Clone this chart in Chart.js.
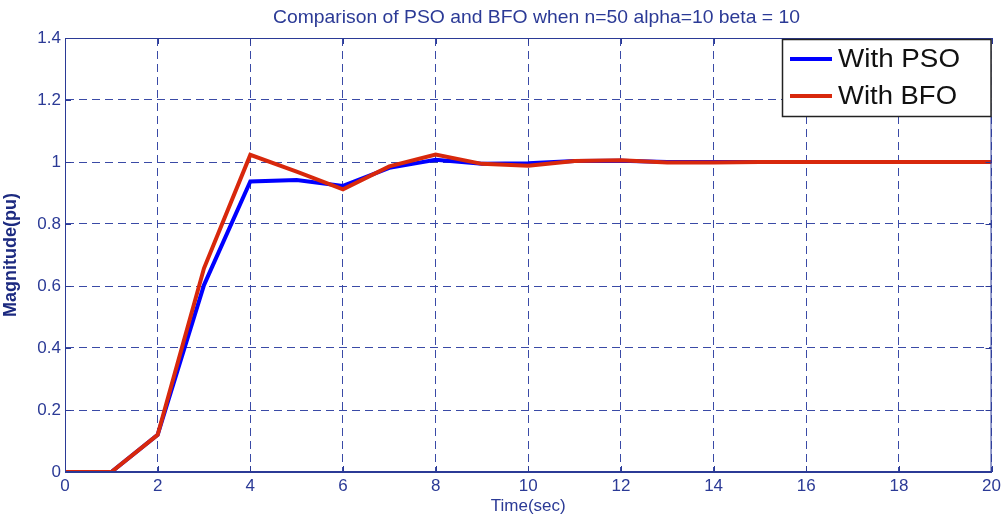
<!DOCTYPE html>
<html>
<head>
<meta charset="utf-8">
<script src="https://cdn.jsdelivr.net/npm/chart.js@4"></script>
<style>
  html, body { margin: 0; padding: 0; background: #fff; }
  #wrap { width: 1005px; height: 517px; }
</style>
</head>
<body>
<div id="wrap"><canvas id="chart" width="1005" height="517"></canvas></div>
<script>
// Data
const timeSec = [0, 1, 2, 3, 4, 5, 6, 7, 8, 9, 10, 11, 12, 13, 14, 15, 16, 17, 18, 19, 20]
const psoValues = [0, 0, 0.12, 0.603, 0.937, 0.942, 0.923, 0.981, 1.007, 0.994, 0.996, 1.003, 1.004, 1.0, 1.0, 1.0, 1.0, 1.0, 1.0, 1.0, 1.0]
const bfoValues = [0, 0, 0.12, 0.657, 1.023, 0.969, 0.912, 0.986, 1.024, 0.994, 0.988, 1.003, 1.006, 0.998, 0.998, 1.0, 1.0, 1.0, 1.0, 1.0, 1.0]
const yTicks = [0, 0.2, 0.4, 0.6, 0.8, 1, 1.2, 1.4]
const xTicks = [0, 2, 4, 6, 8, 10, 12, 14, 16, 18, 20]

const axisColor = "#2b3a96"
const gridColor = "#3a4aa6"
const titleText = "Comparison of PSO and BFO when n=50 alpha=10 beta = 10"

const toPoints = (vals) => vals.map((v, i) => ({ x: timeSec[i], y: v }))

// draw text stretched/condensed to a given width
function fillFitted(ctx, text, x, y, width) {
  const w = ctx.measureText(text).width
  ctx.save()
  ctx.translate(x, y)
  ctx.scale(width / w, 1)
  ctx.fillText(text, 0, 0)
  ctx.restore()
}

// Title, box, tick marks and legend drawn like the MATLAB figure
const figurePlugin = {
  id: "figure",
  afterDraw(chart) {
    const { ctx, chartArea: a, scales } = chart
    ctx.save()
    // frame
    ctx.strokeStyle = axisColor
    ctx.lineWidth = 1
    ctx.strokeRect(a.left + 0.5, a.top + 0.5, a.right - a.left - 1, a.bottom - a.top - 1)

    // small inward ticks on all sides
    ctx.beginPath()
    xTicks.forEach((v) => {
      const x = Math.round(scales.x.getPixelForValue(v)) + 0.5
      ctx.moveTo(x, a.bottom); ctx.lineTo(x, a.bottom - 6)
      ctx.moveTo(x, a.top); ctx.lineTo(x, a.top + 6)
    })
    yTicks.forEach((v) => {
      const y = Math.round(scales.y.getPixelForValue(v)) + 0.5
      ctx.moveTo(a.left, y); ctx.lineTo(a.left + 6, y)
      ctx.moveTo(a.right, y); ctx.lineTo(a.right - 6, y)
    })
    ctx.stroke()

    // title
    ctx.fillStyle = axisColor
    ctx.font = "19px 'Liberation Sans', Arial"
    ctx.textAlign = "left"
    ctx.textBaseline = "middle"
    fillFitted(ctx, titleText, 273, 18, 527)

    // legend
    const bx = 782, by = 39, bw = a.right - 782, bh = 78
    ctx.fillStyle = "#fff"
    ctx.fillRect(bx, by, bw, bh)
    ctx.strokeStyle = "#222"
    ctx.lineWidth = 1.5
    ctx.strokeRect(bx + 0.5, by + 0.5, bw - 1, bh - 1)
    chart.data.datasets.forEach((ds, i) => {
      const ly = 59 + i * 37
      ctx.strokeStyle = ds.borderColor
      ctx.lineWidth = 4
      ctx.beginPath()
      ctx.moveTo(790, ly)
      ctx.lineTo(832, ly)
      ctx.stroke()
      ctx.fillStyle = "#111"
      ctx.font = "25px 'Liberation Sans', Arial"
      ctx.textAlign = "left"
      ctx.textBaseline = "middle"
      fillFitted(ctx, ds.label, 838, ly + 1, i === 0 ? 122 : 119)
    })
    ctx.restore()
  }
}

new Chart(document.getElementById("chart"), {
  type: "line",
  data: {
    datasets: [
      {
        label: "With PSO",
        data: toPoints(psoValues),
        borderColor: "#0000ff",
        borderWidth: 4,
        pointRadius: 0,
        tension: 0,
        order: 1,
      },
      {
        label: "With BFO",
        data: toPoints(bfoValues),
        borderColor: "#d8280c",
        borderWidth: 4,
        pointRadius: 0,
        tension: 0,
        order: 0,
      },
    ],
  },
  options: {
    responsive: false,
    animation: false,
    layout: { padding: { top: 38, right: 13, left: 0, bottom: 0 } },
    plugins: {
      legend: { display: false },
      title: { display: false },
      tooltip: { enabled: false },
    },
    scales: {
      x: {
        type: "linear",
        min: 0,
        max: 20,
        afterBuildTicks: (scale) => { scale.ticks = xTicks.map((v) => ({ value: v })) },
        afterFit: (scale) => { scale.height = 45 },
        ticks: {
          color: axisColor,
          font: { size: 17, family: "'Liberation Sans', Arial" },
          padding: 4,
          maxRotation: 0,
        },
        grid: {
          color: gridColor,
          lineWidth: 1,
          drawTicks: false,
        },
        border: { display: true, color: axisColor, dash: [8, 5] },
        title: {
          display: true,
          text: "Time(sec)",
          color: axisColor,
          font: { size: 17, family: "'Liberation Sans', Arial" },
          padding: { top: 0, bottom: 0 },
        },
      },
      y: {
        min: 0,
        max: 1.4,
        afterBuildTicks: (scale) => { scale.ticks = yTicks.map((v) => ({ value: v })) },
        afterFit: (scale) => { scale.width = 65 },
        ticks: {
          color: axisColor,
          font: { size: 17, family: "'Liberation Sans', Arial" },
          padding: 4,
          callback: (v) => String(Number(v.toFixed(1))),
        },
        grid: {
          color: gridColor,
          lineWidth: 1,
          drawTicks: false,
        },
        border: { display: true, color: axisColor, dash: [8, 5] },
        title: {
          display: true,
          text: "Magnitude(pu)",
          color: "#1c2a80",
          font: { size: 18, weight: "bold", family: "'Liberation Sans', Arial" },
          padding: { top: 0, bottom: 0 },
        },
      },
    },
  },
  plugins: [figurePlugin],
})
</script>
</body>
</html>
